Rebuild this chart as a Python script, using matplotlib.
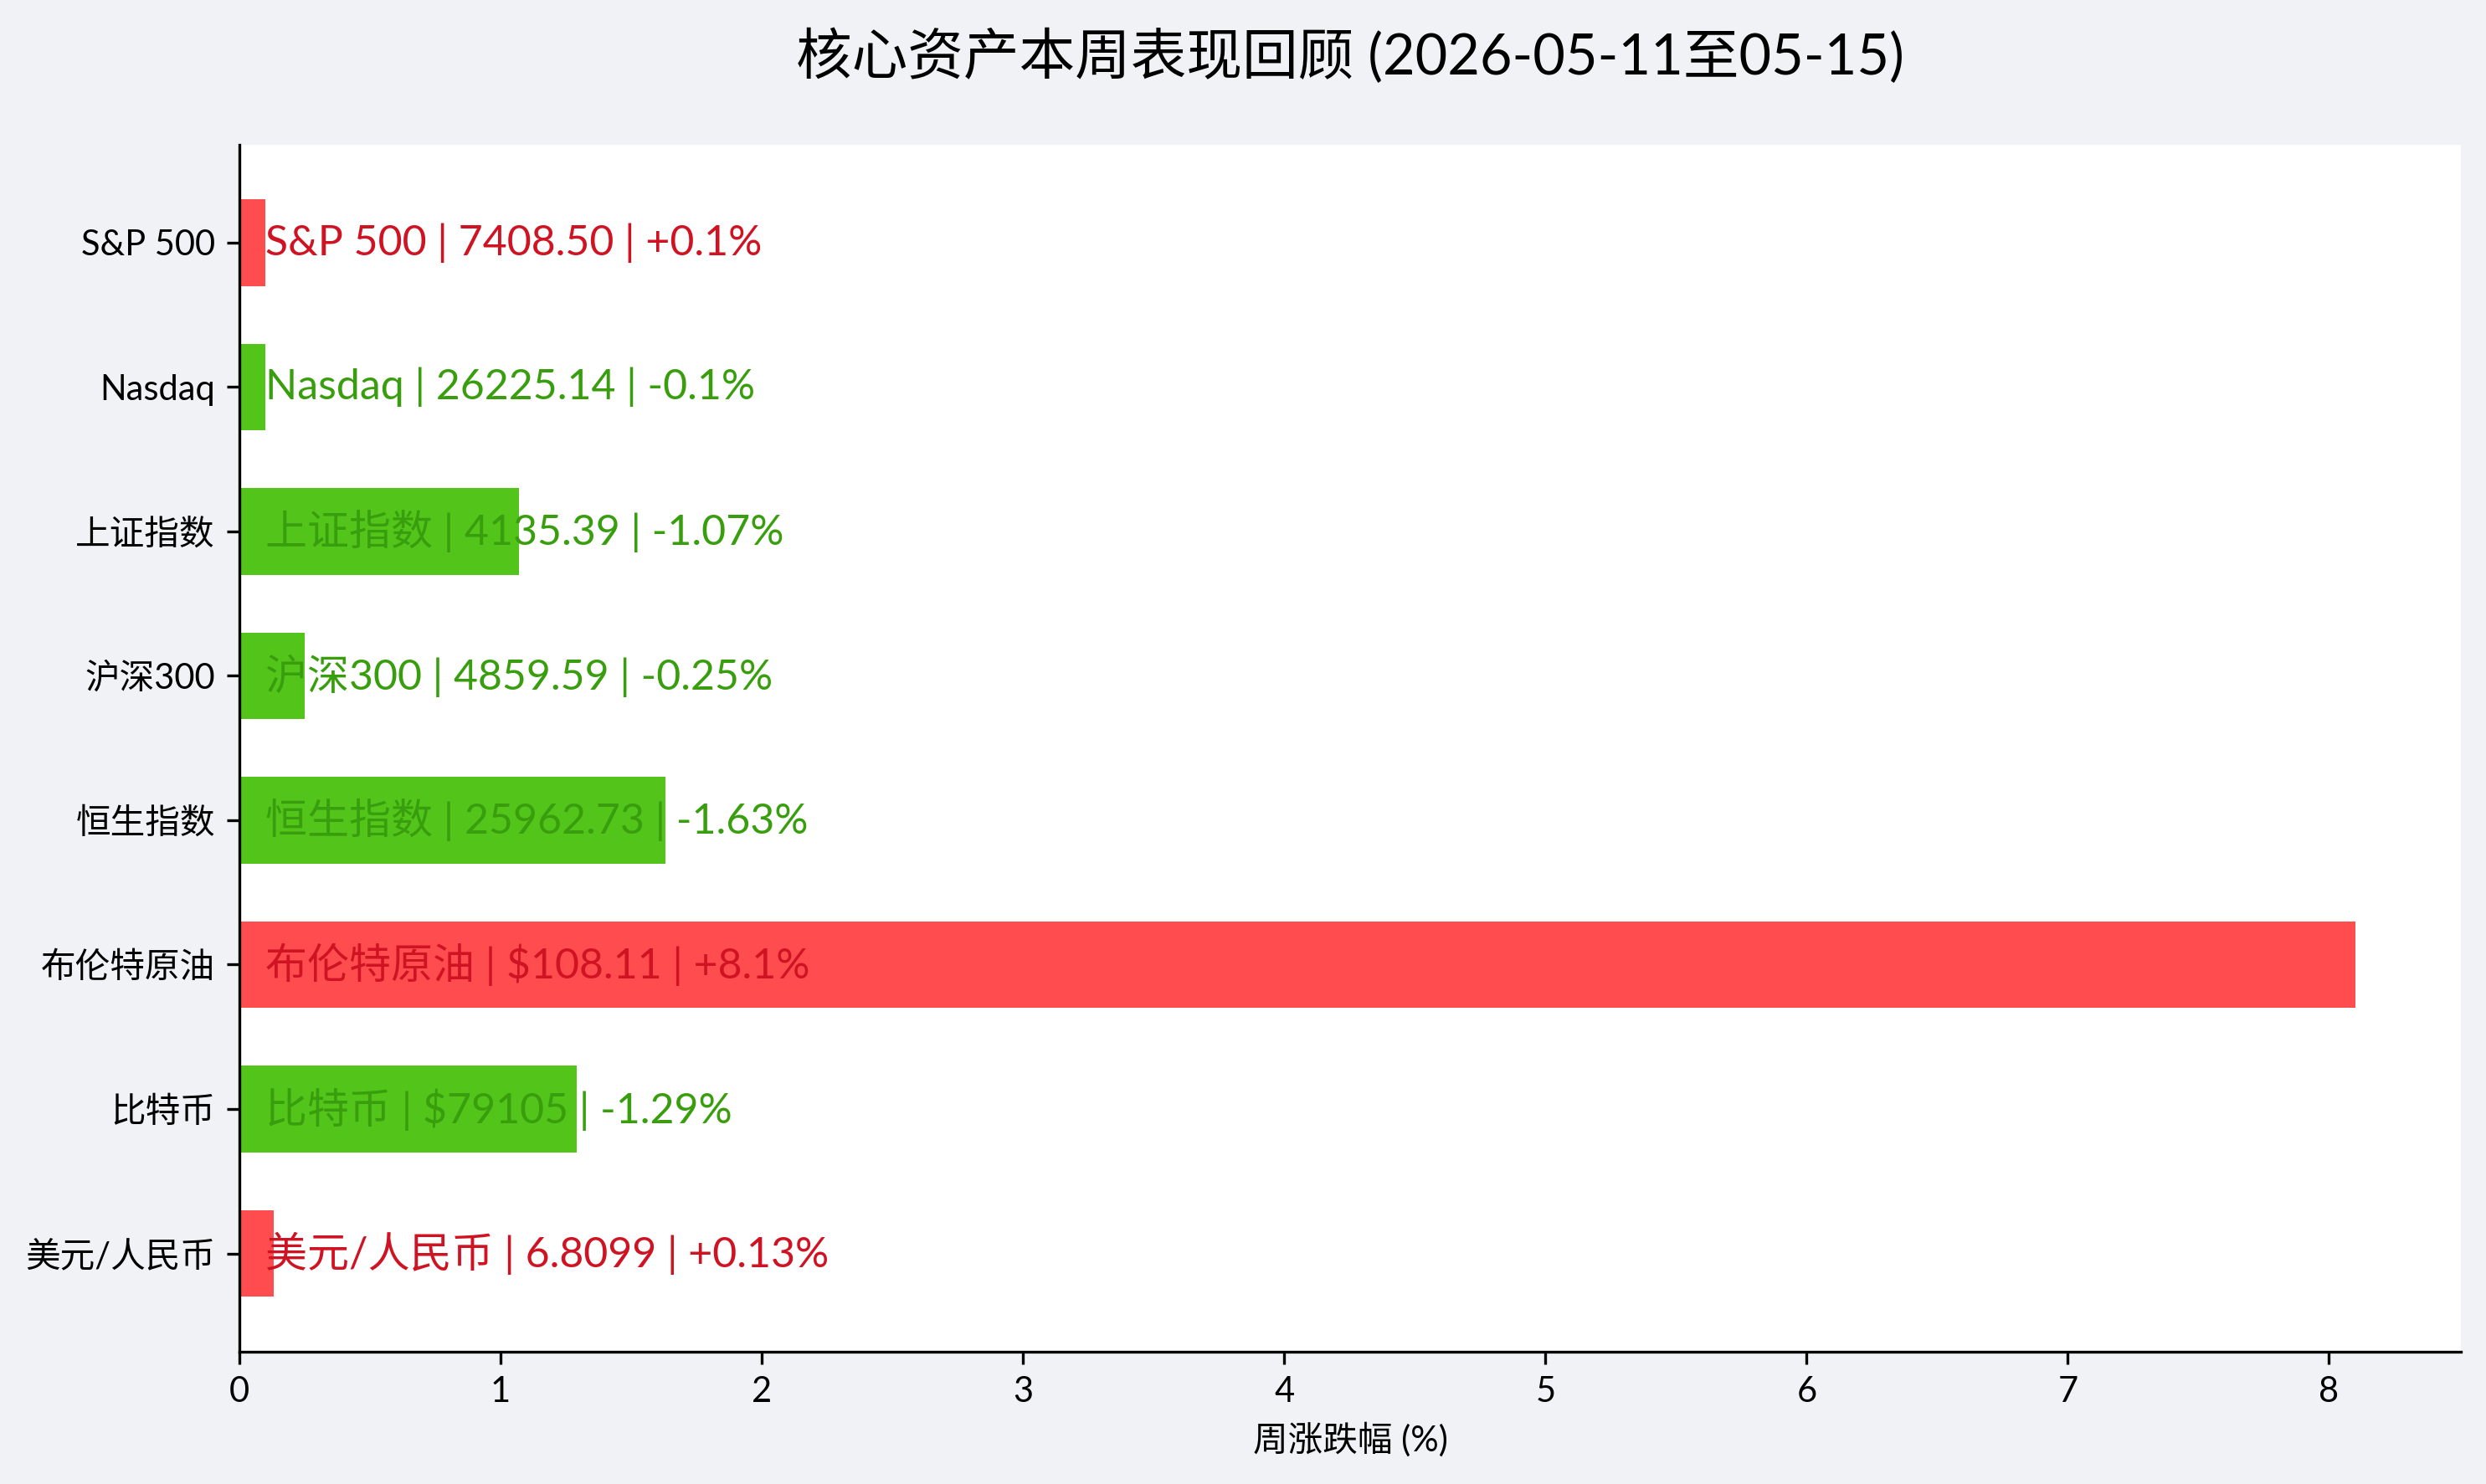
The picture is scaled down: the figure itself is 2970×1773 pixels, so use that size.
import numpy as np
import matplotlib.pyplot as plt

plt.rcParams['font.family'] = ['Lato', 'Noto Sans CJK SC', 'DejaVu Sans']

# weekly data
names = ['S&P 500', 'Nasdaq', '上证指数', '沪深300', '恒生指数', '布伦特原油', '比特币', '美元/人民币']
prices = ['7408.50', '26225.14', '4135.39', '4859.59', '25962.73', '$108.11', '$79105', '6.8099']
changes = [0.1, -0.1, -1.07, -0.25, -1.63, 8.1, -1.29, 0.13]
change_text = ['+0.1%', '-0.1%', '-1.07%', '-0.25%', '-1.63%', '+8.1%', '-1.29%', '+0.13%']

up_bar, down_bar = '#ff4d4f', '#52c41a'
up_txt, down_txt = '#cf1322', '#389e0d'

fig = plt.figure(figsize=(9.9, 5.91), dpi=300, facecolor='#f0f2f5')
ax = fig.add_axes([0.0963, 0.0892, 0.8936, 0.8135])
ax.set_facecolor('white')

y = np.arange(len(names))
vals = np.abs(changes)
colors = [up_bar if c > 0 else down_bar for c in changes]
ax.barh(y, vals, height=0.6, color=colors)

for i in range(len(names)):
    c = up_txt if changes[i] > 0 else down_txt
    ax.text(0.1, y[i], f'{names[i]} | {prices[i]} | {change_text[i]}',
            color=c, fontsize=12, va='center', ha='left')

ax.set_yticks(y)
ax.set_yticklabels(names, fontsize=10)
ax.invert_yaxis()
ax.set_xlim(0, max(vals) * 1.05)
ax.tick_params(axis='x', labelsize=10)
ax.set_xlabel('周涨跌幅 (%)', fontsize=10)
ax.set_title('核心资产本周表现回顾 (2026-05-11至05-15)', fontsize=16, pad=20)

for s in ['top', 'right']:
    ax.spines[s].set_visible(False)

fig.savefig('out.png', dpi=300, facecolor=fig.get_facecolor())
